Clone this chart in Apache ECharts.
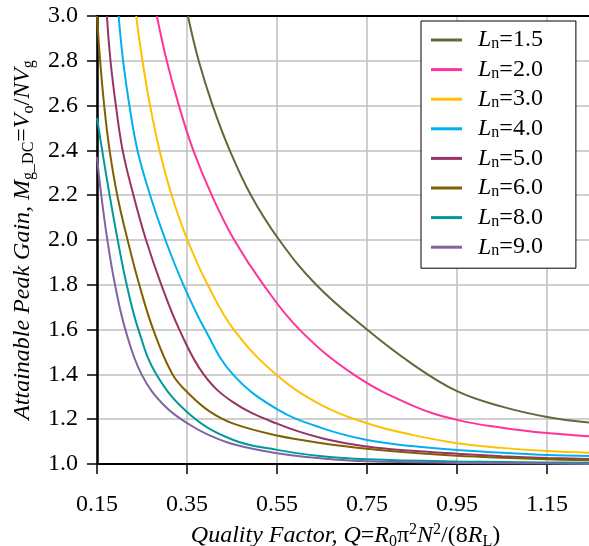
<!DOCTYPE html>
<html>
<head>
<meta charset="utf-8">
<script src="https://cdn.jsdelivr.net/npm/echarts@6/dist/echarts.min.js"></script>
<style>
  html, body { margin: 0; padding: 0; background: #fff; }
  #chart { width: 589px; height: 546px; }
</style>
</head>
<body>
<div id="chart"></div>
<script>
// Inductance ratio of each curve (legend text)
const lnLabels = ['1.5', '2.0', '3.0', '4.0', '5.0', '6.0', '8.0', '9.0'];

// Quality factor Q and attainable peak gain M for each inductance ratio
const q15 = [0.352, 0.376, 0.407, 0.445, 0.492, 0.555, 0.637, 0.75, 0.85, 0.95, 1.05, 1.15, 1.25];
const m15 = [3.0, 2.8, 2.6, 2.4, 2.2, 2.0, 1.8, 1.6, 1.447, 1.325, 1.256, 1.21, 1.184];

const q20 = [0.283, 0.305, 0.332, 0.364, 0.405, 0.455, 0.52, 0.60, 0.72, 0.85, 0.95, 1.05, 1.15, 1.25];
const m20 = [3.0, 2.8, 2.6, 2.4, 2.2, 2.0, 1.8, 1.6, 1.4, 1.262, 1.197, 1.162, 1.138, 1.123];

const q30 = [0.237, 0.251, 0.268, 0.289, 0.316, 0.351, 0.396, 0.454, 0.548, 0.65, 0.75, 0.85, 0.95, 1.05, 1.15, 1.25];
const m30 = [3.0, 2.8, 2.6, 2.4, 2.2, 2.0, 1.8, 1.6, 1.4, 1.262, 1.182, 1.13, 1.093, 1.072, 1.058, 1.05];

const q40 = [0.198, 0.208, 0.222, 0.240, 0.268, 0.302, 0.342, 0.390, 0.452, 0.55, 0.65, 0.75, 0.85, 0.95, 1.05, 1.15, 1.25];
const m40 = [3.0, 2.8, 2.6, 2.4, 2.2, 2.0, 1.8, 1.6, 1.4, 1.245, 1.16, 1.107, 1.08, 1.062, 1.05, 1.04, 1.035];

const q50 = [0.172, 0.180, 0.192, 0.207, 0.231, 0.259, 0.293, 0.333, 0.387, 0.453, 0.55, 0.65, 0.75, 0.85, 0.95, 1.05, 1.15, 1.25];
const m50 = [3.0, 2.8, 2.6, 2.4, 2.2, 2.0, 1.8, 1.6, 1.4, 1.275, 1.18, 1.115, 1.078, 1.059, 1.046, 1.035, 1.027, 1.022];

const q60 = [0.150, 0.157, 0.166, 0.178, 0.195, 0.218, 0.244, 0.275, 0.318, 0.357, 0.40, 0.453, 0.55, 0.65, 0.75, 0.85, 0.95, 1.05, 1.15, 1.25];
const m60 = [3.0, 2.8, 2.6, 2.4, 2.2, 2.0, 1.8, 1.6, 1.4, 1.308, 1.235, 1.18, 1.127, 1.093, 1.068, 1.05, 1.037, 1.028, 1.021, 1.016];

const q80 = [0.150, 0.1615, 0.178, 0.196, 0.216, 0.242, 0.282, 0.357, 0.453, 0.55, 0.65, 0.75, 0.95, 1.15, 1.25];
const m80 = [2.545, 2.4, 2.2, 2.0, 1.8, 1.6, 1.4, 1.22, 1.107, 1.063, 1.035, 1.021, 1.011, 1.007, 1.005];

const q90 = [0.150, 0.1595, 0.173, 0.190, 0.213, 0.249, 0.30, 0.357, 0.40, 0.453, 0.55, 0.65, 0.75, 0.95, 1.15, 1.25];
const m90 = [2.37, 2.2, 2.0, 1.8, 1.6, 1.4, 1.26, 1.174, 1.128, 1.088, 1.048, 1.025, 1.012, 1.005, 1.002, 1.0];

// Axis tick values
const xTicks = [0.15, 0.35, 0.55, 0.75, 0.95, 1.15];
const yTicks = [1.0, 1.2, 1.4, 1.6, 1.8, 2.0, 2.2, 2.4, 2.6, 2.8, 3.0];

const qSets = [q15, q20, q30, q40, q50, q60, q80, q90];
const mSets = [m15, m20, m30, m40, m50, m60, m80, m90];
const lineColors = ['#66663a', '#ff3399', '#ffc000', '#00b0f0', '#993366', '#7f6000', '#009999', '#8064a2'];

const serif = '"Liberation Serif", "DejaVu Serif", serif';

const series = lnLabels.map((name, k) => ({
  name: name,
  type: 'line',
  data: qSets[k].map((q, i) => [q, mSets[k][i]]),
  smooth: 0.4,
  showSymbol: false,
  symbol: 'none',
  lineStyle: { width: 2, color: lineColors[k] },
  itemStyle: { color: lineColors[k] },
  emphasis: { disabled: true },
  z: 3
}));

const chart = echarts.init(document.getElementById('chart'), null, { renderer: 'canvas' });

const richBase = {
  i: { fontFamily: serif, fontStyle: 'italic', fontSize: 24, color: '#000', lineHeight: 28 },
  r: { fontFamily: serif, fontSize: 24, color: '#000', lineHeight: 28 },
  s: { fontFamily: serif, fontSize: 16, color: '#000', verticalAlign: 'bottom', lineHeight: 16 },
  p: { fontFamily: serif, fontSize: 16, color: '#000', verticalAlign: 'top', lineHeight: 16 }
};

chart.setOption({
  animation: false,
  backgroundColor: '#fff',
  grid: { left: 97, top: 16, width: 497, height: 448, containLabel: false, outerBoundsMode: 'none' },
  legend: {
    orient: 'vertical',
    left: 421,
    top: 21,
    icon: 'rect',
    itemWidth: 31,
    itemHeight: 3,
    itemGap: 5.6,
    padding: [7, 33, 9, 10],
    borderColor: '#000',
    borderWidth: 1,
    backgroundColor: '#fff',
    selectedMode: false,
    data: lnLabels,
    formatter: name => `{g|}{i|L}{s|n}{r|=${name}}`,
    textStyle: {
      rich: {
        g: { width: 11, lineHeight: 24 },
        i: { fontFamily: serif, fontStyle: 'italic', fontSize: 24, color: '#000', lineHeight: 24 },
        s: { fontFamily: serif, fontSize: 16, color: '#000', verticalAlign: 'bottom', lineHeight: 16 },
        r: { fontFamily: serif, fontSize: 24, color: '#000', lineHeight: 24 }
      }
    },
    z: 10
  },
  xAxis: [{
    type: 'value',
    min: xTicks[0],
    max: 1.2544,
    interval: 0.2,
    position: 'bottom',
    name: '{i|Quality Factor, Q}{r|=}{i|R}{s|0}{r|π}{p|2}{i|N}{p|2}{r|/(8}{i|R}{s|L}{r|)}',
    nameLocation: 'middle',
    nameGap: 57,
    nameTextStyle: { rich: richBase },
    axisLine: { show: true, onZero: false, lineStyle: { color: '#000', width: 2 } },
    axisTick: { show: true, length: 10, inside: false, lineStyle: { color: '#000', width: 1.5 } },
    axisLabel: {
      margin: 29,
      color: '#000',
      fontFamily: serif,
      fontSize: 24,
      showMaxLabel: false,
      formatter: v => xTicks.some(t => Math.abs(t - v) < 1e-6) ? v.toFixed(2) : ''
    },
    splitLine: { show: true, lineStyle: { color: '#c0c0c0', width: 1.5 } }
  }, {
    type: 'value',
    min: xTicks[0],
    max: 1.2544,
    position: 'top',
    axisLine: { show: true, onZero: false, lineStyle: { color: '#000', width: 2 } },
    axisTick: { show: false },
    axisLabel: { show: false },
    splitLine: { show: false }
  }],
  yAxis: {
    type: 'value',
    min: yTicks[0],
    max: yTicks[yTicks.length - 1],
    interval: 0.2,
    name: '{i|Attainable Peak Gain, M}{s|g_DC}{r|=}{i|V}{s|o}{r|/}{i|NV}{s|g}',
    nameLocation: 'middle',
    nameRotate: 90,
    nameGap: 58,
    nameTextStyle: { rich: richBase },
    axisLine: { show: true, onZero: false, lineStyle: { color: '#000', width: 2.5 } },
    axisTick: { show: true, length: 10, lineStyle: { color: '#000', width: 1.5 } },
    axisLabel: {
      margin: 19,
      color: '#000',
      fontFamily: serif,
      fontSize: 24,
      formatter: v => v.toFixed(1)
    },
    splitLine: { show: true, lineStyle: { color: '#c0c0c0', width: 1.5 } }
  },
  series: series
});
</script>
</body>
</html>
